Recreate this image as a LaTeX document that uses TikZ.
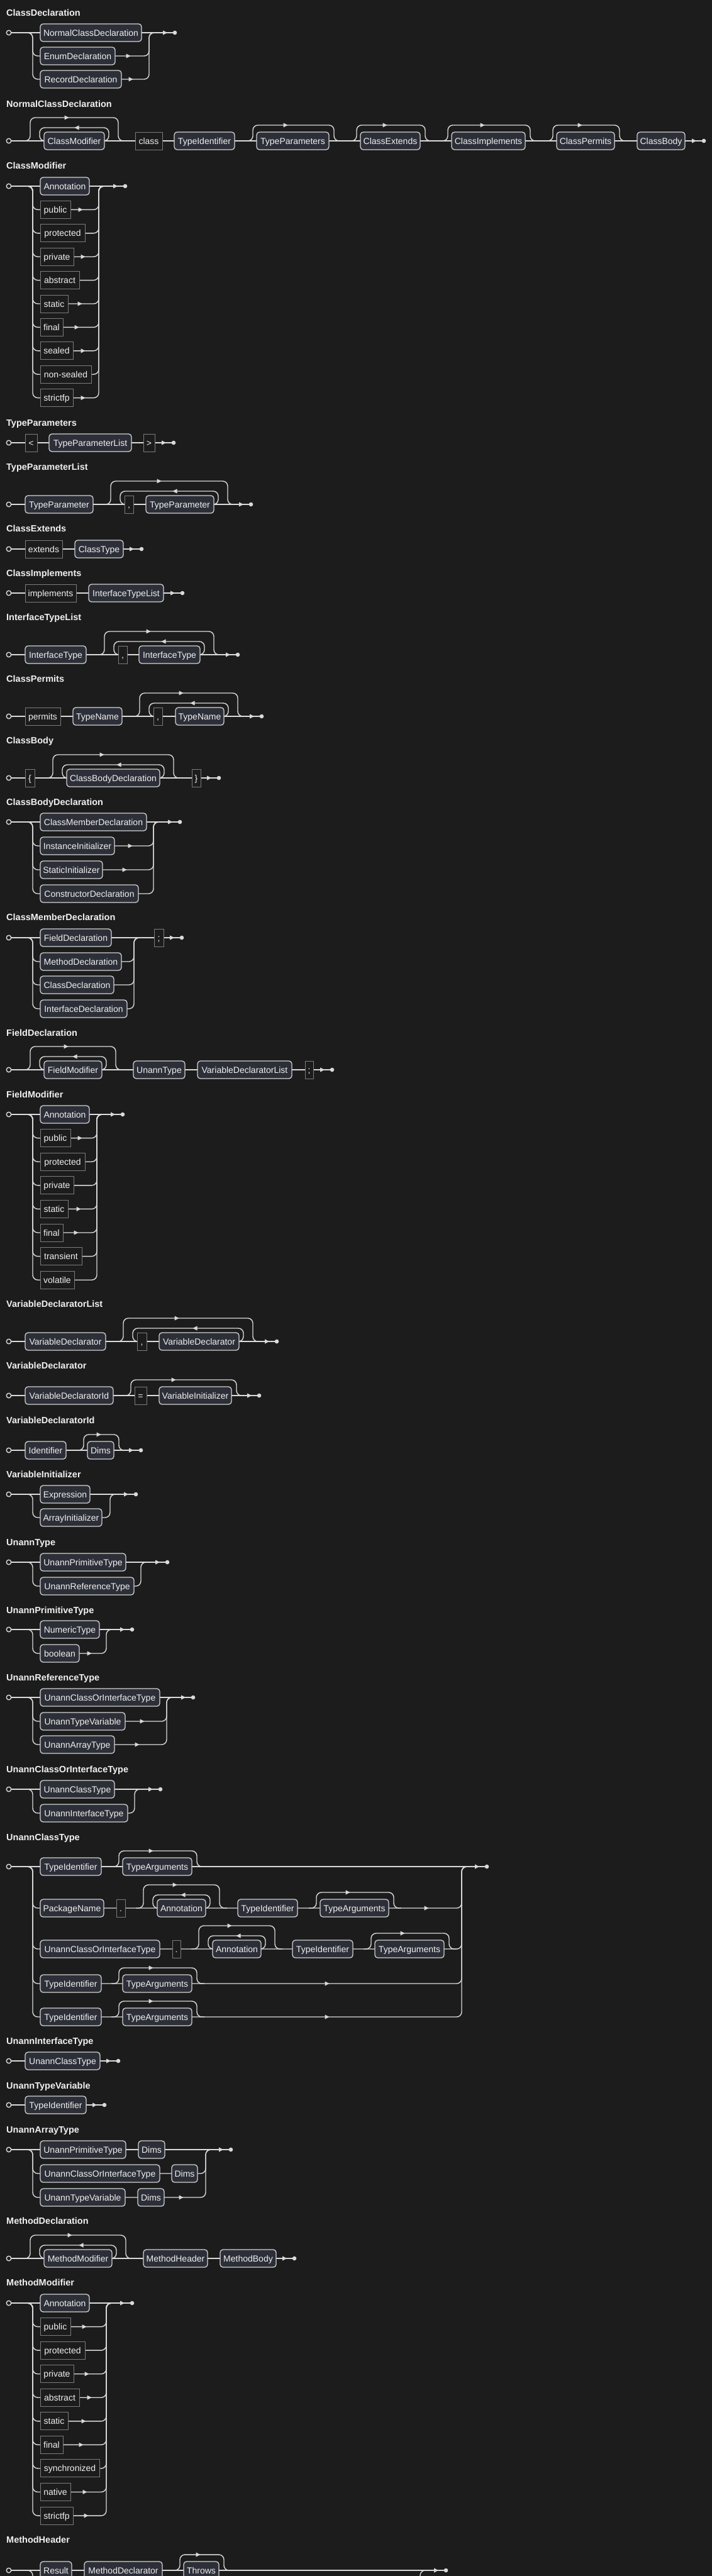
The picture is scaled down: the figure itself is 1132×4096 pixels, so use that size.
\documentclass[tikz,border=0pt]{standalone}
\usepackage{fontspec}
\setmainfont{Liberation Sans}
\pgfdeclarelayer{back}
\pgfdeclarelayer{bg}
\pgfsetlayers{back,bg,main}
\definecolor{bgc}{HTML}{1C1C1C}
\definecolor{linec}{HTML}{DADADA}
\definecolor{ntfill}{HTML}{2D2F38}
\definecolor{ntdraw}{HTML}{D2D2D2}
\definecolor{tmdraw}{HTML}{7C7C7C}
\definecolor{textc}{HTML}{F0F0F0}
\newcommand\rboxfont{\fontsize{14pt}{16pt}\selectfont}
\newcommand\rtitlefont{\fontsize{14.5pt}{17pt}\selectfont\bfseries}
\tikzset{
 rail/.style={draw=linec, line width=1.4pt, rounded corners=8pt},
 boxbase/.style={minimum height=28pt, inner xsep=1pt, inner ysep=0pt, text=textc, font=\rboxfont, text height=10pt, text depth=0pt},
 nt/.style={boxbase, draw=ntdraw, fill=ntfill, line width=1.3pt, rounded corners=4.5pt},
 tm/.style={boxbase, draw=tmdraw, fill=bgc, line width=1pt},
 ttl/.style={text=textc, font=\rtitlefont, anchor=west, inner sep=0pt, text height=10.4pt, text depth=0pt},
 startc/.style={circle, draw=linec, fill=bgc, line width=1.4pt, minimum size=7.5pt, inner sep=0pt},
 endc/.style={circle, fill=linec, minimum size=6.6pt, inner sep=0pt},
 tipfill/.style={fill=linec},
}
\newcommand\rNT[5]{\pgfmathsetmacro\rrw{#3-#2}\pgfmathsetmacro\rrx{(#2+#3)/2}\node[nt,minimum width=\rrw pt] (#1) at (\rrx,#4) {#5};}
\newcommand\rTM[5]{\pgfmathsetmacro\rrw{#3-#2}\pgfmathsetmacro\rrx{(#2+#3)/2}\node[tm,minimum width=\rrw pt] (#1) at (\rrx,#4) {#5};}
\newcommand\rST[2]{\node[startc] (#1) at (14,#2) {};}
\newcommand\rArR[2]{\fill[tipfill] ({#1-3.5},{#2-3.6}) -- ({#1+3.5},{#2}) -- ({#1-3.5},{#2+3.6}) -- cycle;}
\newcommand\rArL[2]{\fill[tipfill] ({#1+3.5},{#2-3.6}) -- ({#1-3.5},{#2}) -- ({#1+3.5},{#2+3.6}) -- cycle;}
\newcommand\rFIN[3]{\rArR{#2-15.5}{#3}\node[endc] (#1) at (#2,#3) {};}
\newcommand\rTT[3]{\node[ttl] (#1) at (10,#2) {#3};}
\newcommand\rRow[4]{\draw[rail] ({#1-12},#3) -- (#1,#3) -- (#1,#4) -- (#2,#4) -- (#2,#3) -- ({#2+12},#3);}
\newcommand\rOpt[3]{\draw[rail] ({#1-18},#3) -- ({#1-6},#3) -- ({#1-6},{#3-25}) -- ({#2+8},{#3-25}) -- ({#2+8},#3) -- ({#2+20},#3);}
\newcommand\rZom[3]{\draw[rail] ({#1-34},#3) -- ({#1-22},#3) -- ({#1-22},{#3-37}) -- ({#2+22},{#3-37}) -- ({#2+22},#3) -- ({#2+34},#3);\draw[rail] ({#2-4},#3) -- ({#2+7},#3) -- ({#2+7},{#3-21}) -- ({#1-7},{#3-21}) -- ({#1-7},#3) -- ({#1+4},#3);}
\begin{document}
\begin{tikzpicture}[x=1pt,y=-1pt]
\begin{pgfonlayer}{back}\fill[bgc] (0,0) rectangle (1132,4096);\end{pgfonlayer}
\useasboundingbox (0,0) rectangle (1132,4096);

% ClassDeclaration
\rTT{t1}{20}{ClassDeclaration}
\rST{s1}{52}
\rNT{a1}{64}{225}{52}{NormalClassDeclaration}
\rNT{a2}{64}{183}{89}{EnumDeclaration}
\rNT{a3}{64}{193}{126}{RecordDeclaration}
\rFIN{e1}{278}{52}
\rArR{204}{89}\rArR{208}{126}
\begin{pgfonlayer}{bg}
\draw[rail] (s1.center) -- (a1.center) -- (e1.center);
\rRow{52}{237}{52}{89}\rRow{52}{237}{52}{126}
\end{pgfonlayer}

% NormalClassDeclaration
\rTT{t2}{165}{NormalClassDeclaration}
\rST{s2}{224}
\rNT{b1}{70}{166}{224}{ClassModifier}
\rTM{b2}{215}{258}{224}{class}
\rNT{b3}{277}{373}{224}{TypeIdentifier}
\rNT{b4}{408}{523}{224}{TypeParameters}
\rNT{b5}{573}{668}{224}{ClassExtends}
\rNT{b6}{718}{835}{224}{ClassImplements}
\rNT{b7}{885}{977}{224}{ClassPermits}
\rNT{b8}{1013}{1089}{224}{ClassBody}
\rFIN{e2}{1119}{224}
\rArR{106}{187}\rArL{122}{203}
\rArR{454}{199}\rArR{612}{199}\rArR{767}{199}\rArR{922}{199}
\begin{pgfonlayer}{bg}
\draw[rail] (s2.center) -- (b1.center) -- (b2.center) -- (b3.center) -- (b4.center) -- (b5.center) -- (b6.center) -- (b7.center) -- (b8.center) -- (e2.center);
\rZom{70}{166}{224}
\rOpt{408}{523}{224}\rOpt{573}{668}{224}\rOpt{718}{835}{224}\rOpt{885}{977}{224}
\end{pgfonlayer}

% ClassModifier
\rTT{t3}{263}{ClassModifier}
\rST{s3}{296}
\rNT{c1}{64}{142}{296}{Annotation}
\rTM{c2}{64}{112}{333.4}{public}
\rTM{c3}{64}{135}{370.8}{protected}
\rTM{c4}{64}{117}{408.2}{private}
\rTM{c5}{64}{126}{445.6}{abstract}
\rTM{c6}{64}{108}{483}{static}
\rTM{c7}{64}{100}{520.4}{final}
\rTM{c8}{64}{116}{557.8}{sealed}
\rTM{c9}{64}{145}{595.2}{non-sealed}
\rTM{c10}{64}{116}{632.6}{strictfp}
\rFIN{e3}{199}{296}
\rArR{128}{333.4}\rArR{132}{408.2}\rArR{127}{483}\rArR{122}{520.4}\rArR{132}{557.8}\rArR{132}{632.6}
\begin{pgfonlayer}{bg}
\draw[rail] (s3.center) -- (c1.center) -- (e3.center);
\foreach \yy in {333.4,370.8,408.2,445.6,483,520.4,557.8,595.2,632.6}{\rRow{52}{157}{296}{\yy}}
\end{pgfonlayer}

% TypeParameters
\rTT{t4}{672}{TypeParameters}
\rST{s4}{704}
\rTM{d1}{40}{59}{704}{<}
\rNT{d2}{78}{209}{704}{TypeParameterList}
\rTM{d3}{228}{246}{704}{>}
\rFIN{e4}{276}{704}
\begin{pgfonlayer}{bg}
\draw[rail] (s4.center) -- (d1.center) -- (d2.center) -- (d3.center) -- (e4.center);
\end{pgfonlayer}

% TypeParameterList
\rTT{t5}{742}{TypeParameterList}
\rST{s5}{802}
\rNT{f1}{40}{148}{802}{TypeParameter}
\rTM{f2}{198}{212}{802}{,}
\rNT{f3}{232}{340}{802}{TypeParameter}
\rFIN{e5}{399}{802}
\rArR{253}{765}\rArL{278}{781}
\begin{pgfonlayer}{bg}
\draw[rail] (s5.center) -- (f1.center) -- (f2.center) -- (f3.center) -- (e5.center);
\rZom{198}{340}{802}
\end{pgfonlayer}

% ClassExtends
\rTT{t6}{840}{ClassExtends}
\rST{s6}{873}
\rTM{g1}{40}{99}{873}{extends}
\rNT{g2}{119}{196}{873}{ClassType}
\rFIN{e6}{225}{873}
\begin{pgfonlayer}{bg}
\draw[rail] (s6.center) -- (g1.center) -- (g2.center) -- (e6.center);
\end{pgfonlayer}

% ClassImplements
\rTT{t7}{911}{ClassImplements}
\rST{s7}{943}
\rTM{h1}{40}{121}{943}{implements}
\rNT{h2}{141}{260}{943}{InterfaceTypeList}
\rFIN{e7}{290}{943}
\begin{pgfonlayer}{bg}
\draw[rail] (s7.center) -- (h1.center) -- (h2.center) -- (e7.center);
\end{pgfonlayer}

% InterfaceTypeList
\rTT{t8}{981}{InterfaceTypeList}
\rST{s8}{1041}
\rNT{i1}{40}{137}{1041}{InterfaceType}
\rTM{i2}{188}{202}{1041}{,}
\rNT{i3}{221}{318}{1041}{InterfaceType}
\rFIN{e8}{378}{1041}
\rArR{236}{1004}\rArL{260}{1020}
\begin{pgfonlayer}{bg}
\draw[rail] (s8.center) -- (i1.center) -- (i2.center) -- (i3.center) -- (e8.center);
\rZom{188}{318}{1041}
\end{pgfonlayer}

% ClassPermits
\rTT{t9}{1079}{ClassPermits}
\rST{s9}{1139}
\rTM{j1}{40}{96}{1139}{permits}
\rNT{j2}{116}{194}{1139}{TypeName}
\rTM{j3}{244}{258}{1139}{,}
\rNT{j4}{279}{356}{1139}{TypeName}
\rFIN{e9}{416}{1139}
\rArR{288}{1102}\rArL{306}{1118}
\begin{pgfonlayer}{bg}
\draw[rail] (s9.center) -- (j1.center) -- (j2.center) -- (j3.center) -- (j4.center) -- (e9.center);
\rZom{244}{356}{1139}
\end{pgfonlayer}

% ClassBody
\rTT{t10}{1177}{ClassBody}
\rST{s10}{1237}
\rTM{k1}{40}{55}{1237}{\{}
\rNT{k2}{106}{254}{1237}{ClassBodyDeclaration}
\rTM{k3}{305}{319}{1237}{\}}
\rFIN{e10}{348}{1237}
\rArR{162}{1200}\rArL{189}{1216}
\begin{pgfonlayer}{bg}
\draw[rail] (s10.center) -- (k1.center) -- (k2.center) -- (k3.center) -- (e10.center);
\rZom{106}{254}{1237}
\end{pgfonlayer}

% ClassBodyDeclaration
\rTT{t11}{1275}{ClassBodyDeclaration}
\rST{s11}{1307}
\rNT{l1}{64}{233}{1307}{ClassMemberDeclaration}
\rNT{l2}{64}{182}{1345}{InstanceInitializer}
\rNT{l3}{64}{163}{1383}{StaticInitializer}
\rNT{l4}{64}{220}{1421}{ConstructorDeclaration}
\rFIN{e11}{286}{1307}
\rArR{207}{1345}\rArR{198}{1383}
\begin{pgfonlayer}{bg}
\draw[rail] (s11.center) -- (l1.center) -- (e11.center);
\rRow{52}{244}{1307}{1345}\rRow{52}{244}{1307}{1383}\rRow{52}{244}{1307}{1421}
\end{pgfonlayer}

% ClassMemberDeclaration
\rTT{t12}{1458}{ClassMemberDeclaration}
\rST{s12}{1491}
\rNT{m1}{64}{177}{1491}{FieldDeclaration}
\rNT{m2}{64}{193}{1529}{MethodDeclaration}
\rNT{m3}{64}{181}{1566}{ClassDeclaration}
\rNT{m4}{64}{202}{1604}{InterfaceDeclaration}
\rTM{m5}{245}{260}{1491}{;}
\rFIN{e12}{289}{1491}
\begin{pgfonlayer}{bg}
\draw[rail] (s12.center) -- (m1.center) -- (m5.center) -- (e12.center);
\rRow{52}{213}{1491}{1529}\rRow{52}{213}{1491}{1566}\rRow{52}{213}{1491}{1604}
\end{pgfonlayer}

% FieldDeclaration
\rTT{t13}{1642}{FieldDeclaration}
\rST{s13}{1701}
\rNT{n1}{70}{162}{1701}{FieldModifier}
\rNT{n2}{212}{294}{1701}{UnannType}
\rNT{n3}{314}{464}{1701}{VariableDeclaratorList}
\rTM{n4}{485}{498}{1701}{;}
\rFIN{e13}{528}{1701}
\rArR{105}{1664}\rArL{119}{1680}
\begin{pgfonlayer}{bg}
\draw[rail] (s13.center) -- (n1.center) -- (n2.center) -- (n3.center) -- (n4.center) -- (e13.center);
\rZom{70}{162}{1701}
\end{pgfonlayer}

% FieldModifier
\rTT{t14}{1740}{FieldModifier}
\rST{s14}{1772}
\rNT{o1}{64}{142}{1772}{Annotation}
\rTM{o2}{64}{112}{1809.6}{public}
\rTM{o3}{64}{135}{1847.2}{protected}
\rTM{o4}{64}{117}{1884.8}{private}
\rTM{o5}{64}{108}{1922.4}{static}
\rTM{o6}{64}{100}{1960}{final}
\rTM{o7}{64}{130}{1997.6}{transient}
\rTM{o8}{64}{118}{2035.2}{volatile}
\rFIN{e14}{195}{1772}
\rArR{127}{1809.6}\rArR{125}{1922.4}\rArR{121}{1960}
\begin{pgfonlayer}{bg}
\draw[rail] (s14.center) -- (o1.center) -- (e14.center);
\foreach \yy in {1809.6,1847.2,1884.8,1922.4,1960,1997.6,2035.2}{\rRow{52}{154}{1772}{\yy}}
\end{pgfonlayer}

% VariableDeclaratorList
\rTT{t15}{2073}{VariableDeclaratorList}
\rST{s15}{2133}
\rNT{p1}{40}{168}{2133}{VariableDeclarator}
\rTM{p2}{218}{233}{2133}{,}
\rNT{p3}{253}{380}{2133}{VariableDeclarator}
\rFIN{e15}{440}{2133}
\rArR{281}{2096}\rArL{310}{2112}
\begin{pgfonlayer}{bg}
\draw[rail] (s15.center) -- (p1.center) -- (p2.center) -- (p3.center) -- (e15.center);
\rZom{218}{380}{2133}
\end{pgfonlayer}

% VariableDeclarator
\rTT{t16}{2171}{VariableDeclarator}
\rST{s16}{2219}
\rNT{q1}{40}{180}{2219}{VariableDeclaratorId}
\rTM{q2}{214}{233}{2219}{=}
\rNT{q3}{253}{368}{2219}{VariableInitializer}
\rFIN{e16}{412}{2219}
\rArR{276}{2194}
\begin{pgfonlayer}{bg}
\draw[rail] (s16.center) -- (q1.center) -- (q2.center) -- (q3.center) -- (e16.center);
\rOpt{214}{368}{2219}
\end{pgfonlayer}

% VariableDeclaratorId
\rTT{t17}{2258}{VariableDeclaratorId}
\rST{s17}{2306}
\rNT{r1}{40}{105}{2306}{Identifier}
\rNT{r2}{139}{181}{2306}{Dims}
\rFIN{e17}{224}{2306}
\rArR{157}{2281}
\begin{pgfonlayer}{bg}
\draw[rail] (s17.center) -- (r1.center) -- (r2.center) -- (e17.center);
\rOpt{139}{181}{2306}
\end{pgfonlayer}

% VariableInitializer
\rTT{t18}{2344}{VariableInitializer}
\rST{s18}{2376}
\rNT{u1}{64}{143}{2376}{Expression}
\rNT{u2}{64}{162}{2413}{ArrayInitializer}
\rFIN{e18}{216}{2376}
\begin{pgfonlayer}{bg}
\draw[rail] (s18.center) -- (u1.center) -- (e18.center);
\rRow{52}{175}{2376}{2413}
\end{pgfonlayer}

% UnannType
\rTT{t19}{2452}{UnannType}
\rST{s19}{2484}
\rNT{v1}{64}{200}{2484}{UnannPrimitiveType}
\rNT{v2}{64}{213}{2522}{UnannReferenceType}
\rFIN{e19}{266}{2484}
\begin{pgfonlayer}{bg}
\draw[rail] (s19.center) -- (v1.center) -- (e19.center);
\rRow{52}{224}{2484}{2522}
\end{pgfonlayer}

% UnannPrimitiveType
\rTT{t20}{2560}{UnannPrimitiveType}
\rST{s20}{2591}
\rNT{w1}{64}{158}{2591}{NumericType}
\rNT{w2}{64}{126}{2629}{boolean}
\rFIN{e20}{210}{2591}
\rArR{142}{2629}
\begin{pgfonlayer}{bg}
\draw[rail] (s20.center) -- (w1.center) -- (e20.center);
\rRow{52}{169}{2591}{2629}
\end{pgfonlayer}

% UnannReferenceType
\rTT{t21}{2667}{UnannReferenceType}
\rST{s21}{2699}
\rNT{x1}{64}{254}{2699}{UnannClassOrInterfaceType}
\rNT{x2}{64}{199}{2737}{UnannTypeVariable}
\rNT{x3}{64}{182}{2774}{UnannArrayType}
\rFIN{e21}{307}{2699}
\rArR{226}{2737}\rArR{218}{2774}
\begin{pgfonlayer}{bg}
\draw[rail] (s21.center) -- (x1.center) -- (e21.center);
\rRow{52}{265}{2699}{2737}\rRow{52}{265}{2699}{2774}
\end{pgfonlayer}

% UnannClassOrInterfaceType
\rTT{t22}{2813}{UnannClassOrInterfaceType}
\rST{s22}{2845}
\rNT{y1}{64}{182}{2845}{UnannClassType}
\rNT{y2}{64}{203}{2883}{UnannInterfaceType}
\rFIN{e22}{255}{2845}
\begin{pgfonlayer}{bg}
\draw[rail] (s22.center) -- (y1.center) -- (e22.center);
\rRow{52}{214}{2845}{2883}
\end{pgfonlayer}

% UnannClassType
\rTT{t23}{2921}{UnannClassType}
\rST{s23}{2968}
\rNT{z1}{64}{161}{2968}{TypeIdentifier}
\rNT{z2}{195}{305}{2968}{TypeArguments}
\rNT{z3}{64}{165}{3034}{PackageName}
\rTM{z4}{185}{199}{3034}{.}
\rNT{z5}{250}{327}{3034}{Annotation}
\rNT{z6}{378}{473}{3034}{TypeIdentifier}
\rNT{z7}{509}{618}{3034}{TypeArguments}
\rNT{z8}{64}{254}{3099}{UnannClassOrInterfaceType}
\rTM{z9}{274}{287}{3099}{.}
\rNT{z10}{338}{415}{3099}{Annotation}
\rNT{z11}{465}{561}{3099}{TypeIdentifier}
\rNT{z12}{596}{706}{3099}{TypeArguments}
\rNT{z13}{64}{161}{3154}{TypeIdentifier}
\rNT{z14}{195}{305}{3154}{TypeArguments}
\rNT{z15}{64}{161}{3207}{TypeIdentifier}
\rNT{z16}{195}{305}{3207}{TypeArguments}
\rFIN{e23}{774}{2968}
\rArR{240}{2943}
\rArR{278}{2997}\rArL{291}{3013}\rArR{553}{3009}\rArR{678}{3034}
\rArR{365}{3062}\rArL{379}{3078}\rArR{640}{3074}
\rArR{240}{3129}\rArR{520}{3154}
\rArR{240}{3182}\rArR{520}{3207}
\begin{pgfonlayer}{bg}
\draw[rail] (s23.center) -- (z1.center) -- (z2.center) -- (e23.center);
\rOpt{195}{305}{2968}
\rRow{52}{734}{2968}{3034}\rZom{250}{327}{3034}\rOpt{509}{618}{3034}
\rRow{52}{734}{2968}{3099}\rZom{338}{415}{3099}\rOpt{596}{706}{3099}
\rRow{52}{734}{2968}{3154}\rOpt{195}{305}{3154}
\rRow{52}{734}{2968}{3207}\rOpt{195}{305}{3207}
\end{pgfonlayer}

% UnannInterfaceType
\rTT{t24}{3245}{UnannInterfaceType}
\rST{s24}{3277}
\rNT{aa1}{40}{159}{3277}{UnannClassType}
\rFIN{e24}{188}{3277}
\begin{pgfonlayer}{bg}
\draw[rail] (s24.center) -- (aa1.center) -- (e24.center);
\end{pgfonlayer}

% UnannTypeVariable
\rTT{t25}{3316}{UnannTypeVariable}
\rST{s25}{3347}
\rNT{ab1}{40}{137}{3347}{TypeIdentifier}
\rFIN{e25}{166}{3347}
\begin{pgfonlayer}{bg}
\draw[rail] (s25.center) -- (ab1.center) -- (e25.center);
\end{pgfonlayer}

% UnannArrayType
\rTT{t26}{3386}{UnannArrayType}
\rST{s26}{3418}
\rNT{ac1}{64}{200}{3418}{UnannPrimitiveType}
\rNT{ac2}{220}{262}{3418}{Dims}
\rNT{ac3}{64}{254}{3456}{UnannClassOrInterfaceType}
\rNT{ac4}{273}{314}{3456}{Dims}
\rNT{ac5}{64}{199}{3494}{UnannTypeVariable}
\rNT{ac6}{219}{261}{3494}{Dims}
\rFIN{e26}{367}{3418}
\rArR{288}{3494}
\begin{pgfonlayer}{bg}
\draw[rail] (s26.center) -- (ac1.center) -- (ac2.center) -- (e26.center);
\rRow{52}{327}{3418}{3456}\rRow{52}{327}{3418}{3494}
\end{pgfonlayer}

% MethodDeclaration
\rTT{t27}{3531}{MethodDeclaration}
\rST{s27}{3591}
\rNT{ad1}{70}{178}{3591}{MethodModifier}
\rNT{ad2}{228}{330}{3591}{MethodHeader}
\rNT{ad3}{350}{439}{3591}{MethodBody}
\rFIN{e27}{468}{3591}
\rArR{111}{3554}\rArL{129}{3570}
\begin{pgfonlayer}{bg}
\draw[rail] (s27.center) -- (ad1.center) -- (ad2.center) -- (ad3.center) -- (e27.center);
\rZom{70}{178}{3591}
\end{pgfonlayer}

% MethodModifier
\rTT{t28}{3629}{MethodModifier}
\rST{s28}{3662}
\rNT{ae1}{64}{142}{3662}{Annotation}
\rTM{ae2}{64}{112}{3699.6}{public}
\rTM{ae3}{64}{135}{3737.1}{protected}
\rTM{ae4}{64}{117}{3774.7}{private}
\rTM{ae5}{64}{126}{3812.2}{abstract}
\rTM{ae6}{64}{108}{3849.8}{static}
\rTM{ae7}{64}{100}{3887.3}{final}
\rTM{ae8}{64}{158}{3924.9}{synchronized}
\rTM{ae9}{64}{112}{3962.4}{native}
\rTM{ae10}{64}{116}{4000}{strictfp}
\rFIN{e28}{210}{3662}
\rArR{134}{3699.6}\rArR{138}{3774.7}\rArR{142}{3812.2}\rArR{133}{3849.8}\rArR{129}{3887.3}\rArR{135}{3962.4}\rArR{137}{4000}
\begin{pgfonlayer}{bg}
\draw[rail] (s28.center) -- (ae1.center) -- (e28.center);
\foreach \yy in {3699.6,3737.1,3774.7,3812.2,3849.8,3887.3,3924.9,3962.4,4000}{\rRow{52}{169}{3662}{\yy}}
\end{pgfonlayer}

% MethodHeader
\rTT{t29}{4038}{MethodHeader}
\rST{s29}{4087}
\rNT{af1}{64}{114}{4087}{Result}
\rNT{af2}{134}{258}{4087}{MethodDeclarator}
\rNT{af3}{292}{348}{4087}{Throws}
\rFIN{e29}{709}{4087}
\rArR{315}{4062}
\begin{pgfonlayer}{bg}
\draw[rail] (s29.center) -- (af1.center) -- (af2.center) -- (af3.center) -- (e29.center);
\rOpt{292}{348}{4087}
\draw[rail] (40,4087) -- (52,4087) -- (52,4130);
\draw[rail] (668,4130) -- (668,4087) -- (680,4087);
\end{pgfonlayer}
\end{tikzpicture}
\end{document}
